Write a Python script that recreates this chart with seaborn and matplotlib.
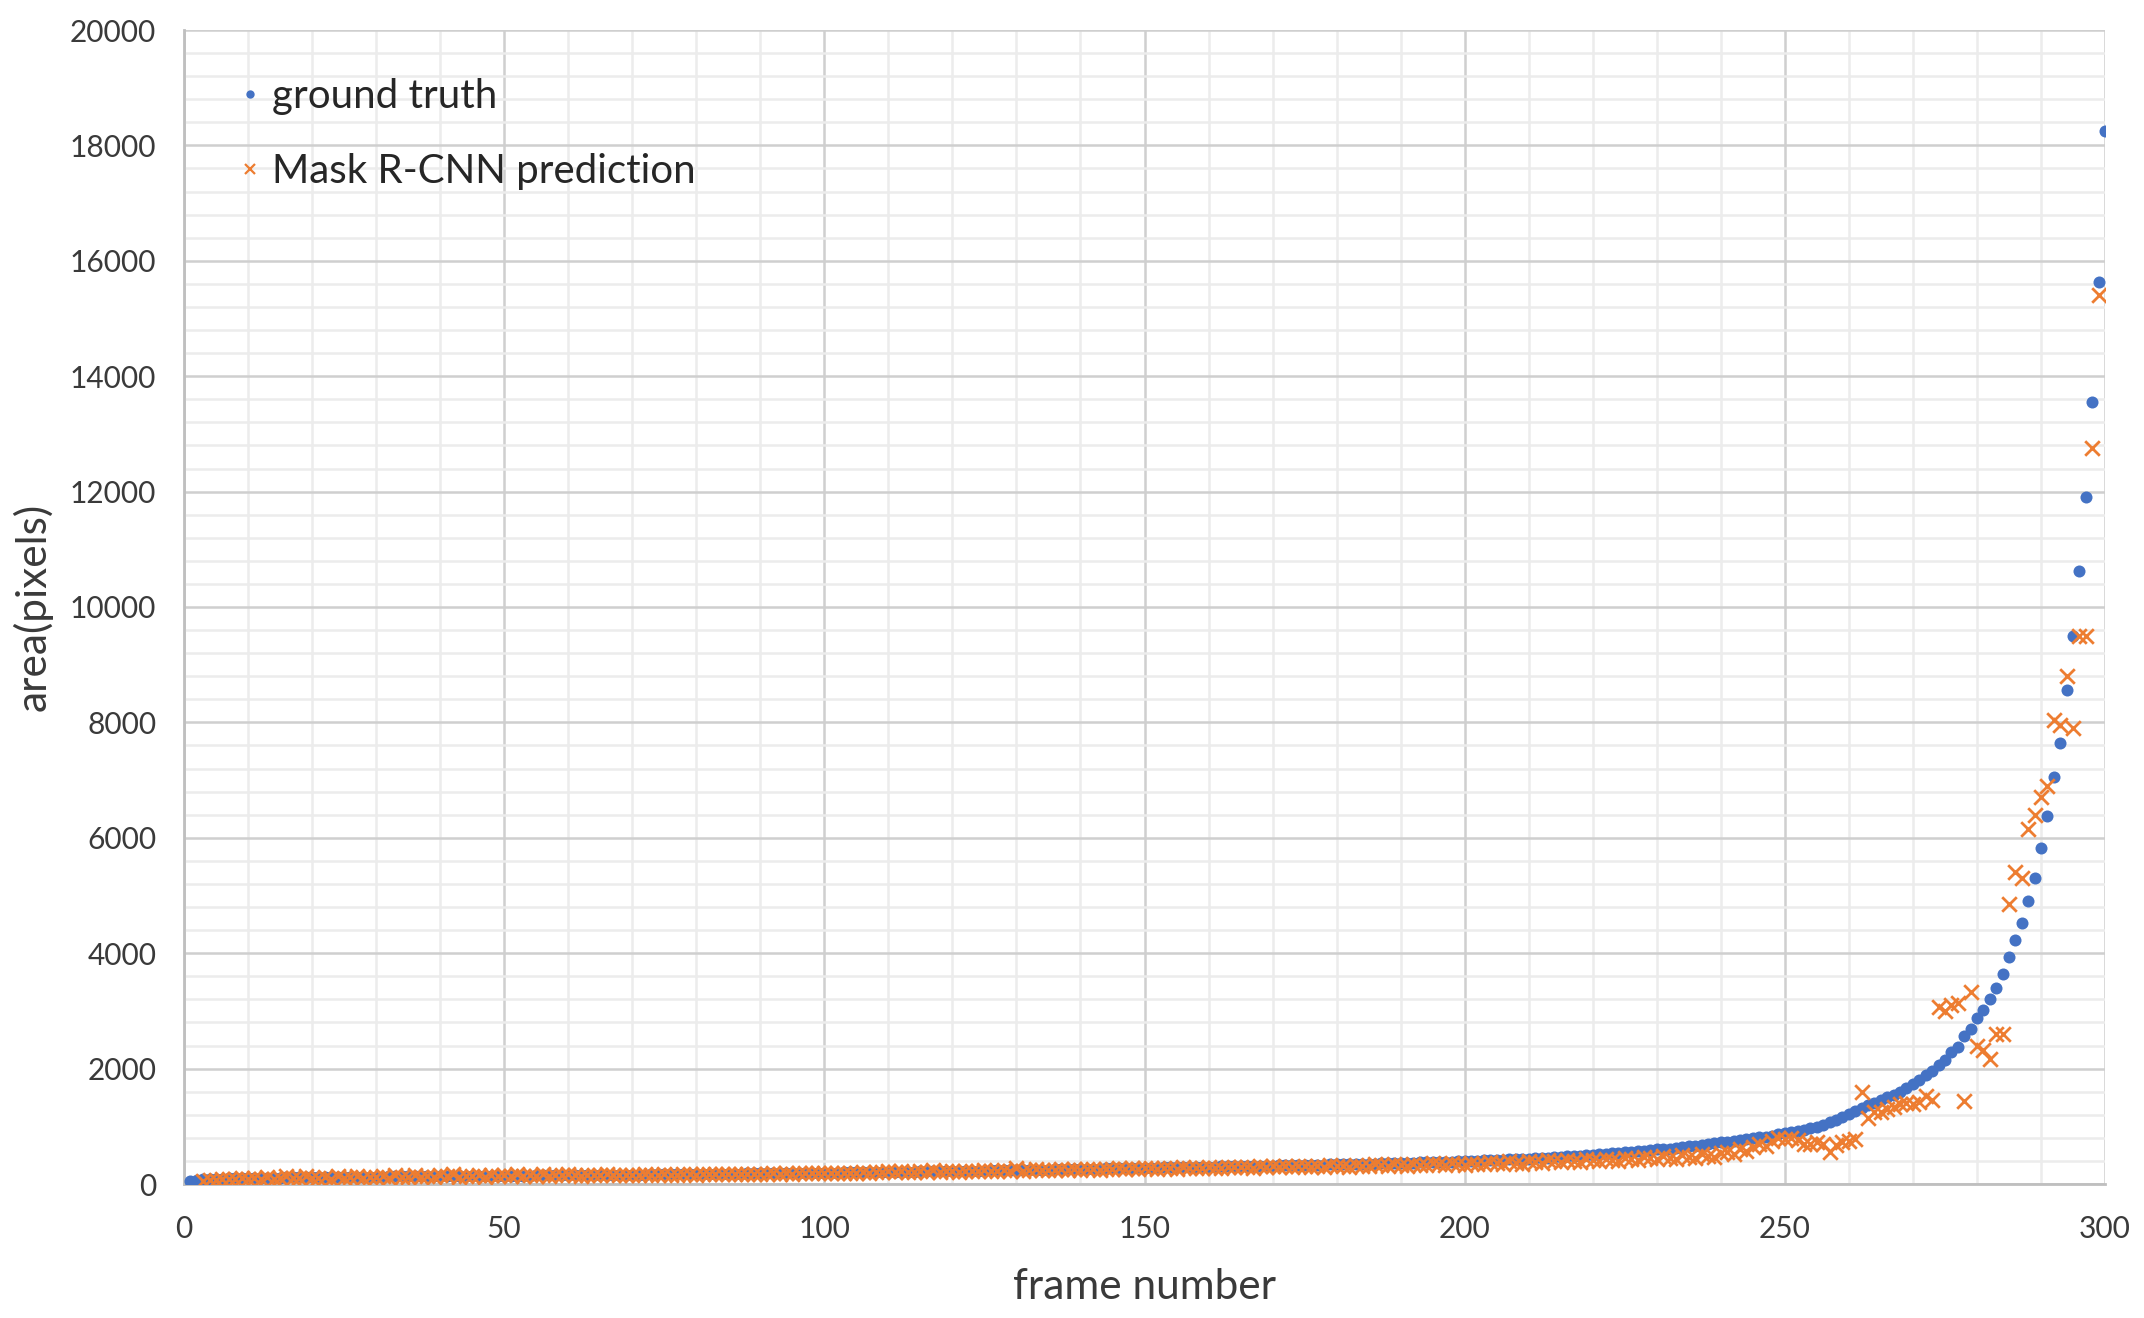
import matplotlib
matplotlib.use("Agg")
import matplotlib.pyplot as plt
import seaborn as sns
import pandas as pd
import numpy as np
from matplotlib.ticker import MultipleLocator
from matplotlib.lines import Line2D

frames = list(range(1, 301))

ground_truth = [
    60, 70, 80, 86, 90, 94, 97, 100, 103, 105,
    107, 108, 110, 111, 112, 113, 114, 115, 117, 118,
    119, 120, 121, 122, 123, 124, 125, 126, 127, 128,
    129, 130, 131, 132, 133, 133, 134, 135, 136, 137,
    137, 138, 139, 139, 140, 141, 141, 142, 143, 143,
    144, 145, 146, 147, 148, 149, 150, 151, 152, 153,
    154, 155, 156, 157, 158, 159, 160, 161, 161, 162,
    163, 164, 165, 166, 167, 168, 169, 170, 171, 172,
    173, 174, 175, 177, 178, 179, 181, 182, 183, 184,
    185, 186, 188, 189, 190, 191, 192, 193, 194, 195,
    197, 198, 200, 201, 202, 204, 205, 207, 208, 210,
    211, 213, 214, 216, 218, 219, 220, 222, 224, 225,
    227, 228, 230, 231, 232, 234, 235, 237, 238, 240,
    242, 244, 246, 248, 250, 252, 255, 257, 260, 262,
    264, 266, 268, 270, 272, 274, 276, 278, 280, 282,
    284, 285, 287, 289, 291, 292, 294, 296, 298, 300,
    302, 304, 306, 308, 310, 312, 314, 316, 318, 320,
    322, 324, 326, 328, 330, 332, 334, 337, 339, 341,
    343, 345, 347, 349, 351, 353, 356, 358, 361, 365,
    368, 371, 374, 377, 380, 383, 386, 389, 392, 395,
    399, 404, 409, 414, 420, 424, 428, 432, 437, 441,
    445, 451, 457, 463, 470, 477, 484, 491, 500, 508,
    515, 523, 532, 540, 549, 558, 567, 576, 590, 598,
    605, 612, 625, 638, 650, 663, 676, 690, 705, 720,
    732, 745, 758, 772, 790, 806, 822, 840, 860, 880,
    895, 910, 935, 965, 995, 1030, 1070, 1110, 1160, 1210,
    1260, 1310, 1370, 1410, 1455, 1500, 1550, 1600, 1670, 1740,
    1810, 1890, 1960, 2070, 2150, 2280, 2380, 2570, 2680, 2880,
    3010, 3200, 3400, 3640, 3940, 4230, 4530, 4900, 5300, 5820,
    6370, 7050, 7650, 8560, 9500, 10620, 11900, 13550, 15640, 18250,
]

mask_rcnn = [
    None, None, 60, 75, 70, 95, 80, 90, 110, 85,
    100, 95, 120, 90, 105, 130, 98, 112, 140, 100,
    110, 125, 95, 130, 105, 115, 140, 100, 120, 118,
    135, 110, 150, 120, 128, 160, 115, 140, 125, 150,
    130, 165, 120, 145, 135, 160, 125, 150, 138, 155,
    140, 170, 130, 160, 145, 175, 140, 155, 150, 165,
    150, 145, 160, 155, 150, 165, 158, 150, 162, 155,
    158, 165, 160, 155, 168, 162, 160, 170, 165, 162,
    168, 172, 165, 175, 170, 168, 178, 172, 175, 180,
    176, 182, 178, 185, 180, 188, 183, 190, 186, 192,
    190, 195, 192, 198, 195, 200, 196, 205, 200, 220,
    205, 230, 210, 200, 225, 212, 235, 215, 218, 225,
    215, 232, 222, 218, 240, 225, 230, 245, 228, 270,
    230, 238, 255, 240, 248, 236, 252, 244, 260, 250,
    255, 262, 248, 266, 258, 270, 262, 275, 266, 280,
    270, 262, 285, 275, 268, 290, 278, 282, 270, 292,
    285, 278, 295, 288, 300, 292, 285, 305, 298, 310,
    300, 320, 295, 310, 305, 290, 315, 300, 325, 310,
    320, 298, 335, 315, 305, 340, 322, 310, 345, 330,
    320, 350, 335, 325, 360, 340, 330, 365, 345, 335,
    370, 350, 340, 380, 360, 350, 395, 370, 355, 400,
    380, 365, 410, 390, 375, 420, 400, 385, 430, 410,
    395, 440, 420, 405, 455, 430, 415, 470, 445, 430,
    480, 455, 440, 500, 470, 455, 520, 490, 475, 540,
    560, 520, 600, 580, 640, 700, 660, 740, 790, 780,
    800, 760, 700, 690, 720, 700, 560, 680, 730, 750,
    780, 1590, 1150, 1250, 1250, 1300, 1330, 1380, 1400, 1380,
    1420, 1520, 1450, 3060, 3000, 3100, 3130, 1430, 3330, 2400,
    2330, 2160, 2600, 2600, 4850, 5400, 5300, 6150, 6400, 6700,
    6900, 8050, 7950, 8800, 7900, 9500, 9500, 12750, 15400, None,
]

series_names = ["ground truth", "Mask R-CNN prediction"]
x_ticks = list(range(0, 301, 50))
y_ticks = list(range(0, 20001, 2000))

df = pd.DataFrame({
    "frame": frames,
    "gt": pd.to_numeric(pd.Series(ground_truth), errors="coerce"),
    "pred": pd.to_numeric(pd.Series(mask_rcnn), errors="coerce"),
})

sns.set_style("white")
plt.rcParams["font.family"] = ["Lato", "DejaVu Sans"]

BLUE = "#4472C4"
ORANGE = "#ED7D31"
TXT = "#3a3a3a"

fig = plt.figure(figsize=(21.44, 13.18), dpi=100)
ax = fig.add_axes([184 / 2144, 1 - 1184 / 1318, 1921 / 2144, 1154 / 1318])

sns.scatterplot(data=df, x="frame", y="gt", ax=ax, color=BLUE, marker="o",
                s=75, linewidth=0, zorder=3)
sns.scatterplot(data=df, x="frame", y="pred", ax=ax, color=ORANGE, marker="x",
                s=110, linewidth=2.0, zorder=4)

ax.set_xlim(0, 300)
ax.set_ylim(0, 20000)
ax.set_xticks(x_ticks)
ax.set_yticks(y_ticks)
ax.xaxis.set_minor_locator(MultipleLocator(10))
ax.yaxis.set_minor_locator(MultipleLocator(400))
ax.grid(which="major", color="#cfcfcf", linewidth=1.8, zorder=1)
ax.grid(which="minor", color="#ececec", linewidth=1.8, zorder=0)
ax.set_axisbelow(True)

for side in ["top", "right"]:
    ax.spines[side].set_visible(False)
for side in ["left", "bottom"]:
    ax.spines[side].set_color("#bfbfbf")
    ax.spines[side].set_linewidth(2.0)

ax.tick_params(axis="both", which="both", length=0, labelsize=21.5, labelcolor=TXT)
ax.tick_params(axis="x", pad=22)
ax.tick_params(axis="y", pad=20)

ax.set_xlabel("frame number", fontsize=30.5, color=TXT, labelpad=18)
ax.set_ylabel("area(pixels)", fontsize=30.5, color=TXT, labelpad=12)

handles = [
    Line2D([], [], marker="o", linestyle="", color=BLUE, markersize=6, markeredgewidth=0),
    Line2D([], [], marker="x", linestyle="", color=ORANGE, markersize=7, markeredgewidth=1.6),
]
ax.legend(handles, series_names, loc="upper left", bbox_to_anchor=(0.005, 0.99),
          frameon=False, fontsize=29, handletextpad=0.05, handlelength=1.0,
          labelspacing=0.95, labelcolor="#262626")

fig.savefig("out.png", dpi=100)
